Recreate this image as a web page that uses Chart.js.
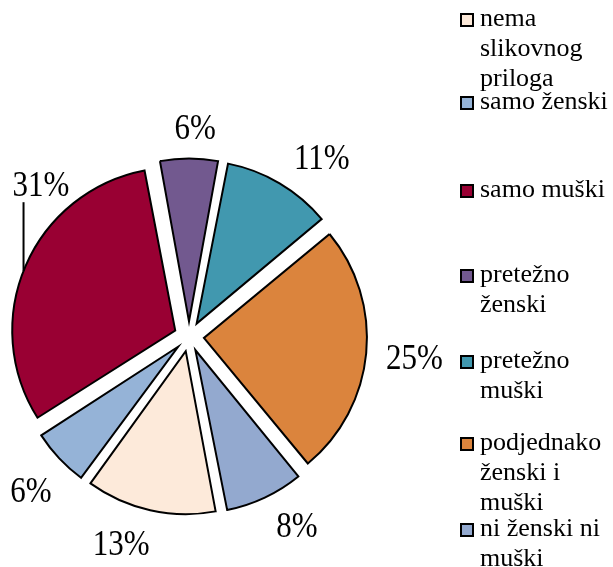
<!DOCTYPE html>
<html><head><meta charset="utf-8">
<script src="https://cdn.jsdelivr.net/npm/chart.js@4.4.0/dist/chart.umd.min.js"></script>
<style>
html,body{margin:0;padding:0;background:#fff;}
#wrap{position:relative;width:613px;height:567px;overflow:hidden;background:#fff;}
#c{position:absolute;left:0;top:0;}
.lg{position:absolute;left:460px;font-family:"Liberation Serif","Times New Roman",serif;font-size:26px;line-height:30px;color:#000;}
.lg .sw{position:absolute;left:0;top:10px;width:10px;height:10px;border:2px solid #000;}
.lg .tx{margin-left:20px;width:135px;}
</style>
</head><body>
<div id="wrap"><canvas id="c" width="613" height="567"></canvas><div id="legend"></div></div>
<script>
const categories = ['nema slikovnog priloga','samo ženski','samo muški','pretežno ženski','pretežno muški','podjednako ženski i muški','ni ženski ni muški'];
const shares = [13, 6, 31, 6, 11, 25, 8];
const colors = ['#FDEADA','#95B3D7','#990033','#72598F','#4198AF','#DB843D','#93A9CF'];

const R = 163;          // pie radius
const EXPLODE = 15;     // translation of every slice in px
const legendTops = [3, 86, 174, 259, 345, 427, 513];
const LABEL_SIZE = 31, LABEL_STRETCH = 1.14;
// label placement: angular shift (deg) from slice bisector, radial shift (px), leader line
const labelAngleShift = [5.6, -0.9, 22.4, 1.7, 5.9, -0.3, -4.5];
const labelDistShift = [0, 0, -13, 0, 0, 0, 0];
const labelLeader = [false, false, true, false, false, false, false];

// HTML legend
const lg = document.getElementById('legend');
categories.forEach((name, i) => {
  const d = document.createElement('div');
  d.className = 'lg';
  d.style.top = legendTops[i] + 'px';
  const sw = document.createElement('div');
  sw.className = 'sw';
  sw.style.background = colors[i];
  const tx = document.createElement('div');
  tx.className = 'tx';
  tx.textContent = name;
  d.appendChild(sw); d.appendChild(tx);
  lg.appendChild(d);
});

// keep radius equal for every exploded slice (Chart.js grows small arcs by offset*fix)
const radiusFix = {
  id: 'radiusFix',
  beforeDatasetsDraw(chart) {
    const meta = chart.getDatasetMeta(0);
    meta.data.forEach(el => {
      const c = el.endAngle - el.startAngle;
      const fix = 1 - Math.sin(Math.min(Math.PI, c));
      el.outerRadius = R - EXPLODE * fix;
    });
  }
};

const pctLabels = {
  id: 'pctLabels',
  afterDatasetsDraw(chart) {
    const ctx = chart.ctx;
    const meta = chart.getDatasetMeta(0);
    const total = shares.reduce((a, b) => a + b, 0);
    ctx.save();
    ctx.font = LABEL_SIZE + 'px "Liberation Serif", "Times New Roman", serif';
    ctx.fillStyle = '#000';
    ctx.textAlign = 'center';
    ctx.textBaseline = 'alphabetic';
    const h = 0.676 * LABEL_SIZE * LABEL_STRETCH;
    meta.data.forEach((el, i) => {
      const txt = Math.round(shares[i] / total * 100) + '%';
      const w = ctx.measureText(txt).width;
      const bis = (el.startAngle + el.endAngle) / 2;
      const mid = bis + labelAngleShift[i] * Math.PI / 180;
      const ux = Math.cos(mid), uy = Math.sin(mid);
      const dist = R + EXPLODE + 19 + Math.abs(ux) * w / 2 + Math.abs(uy) * h / 2 + labelDistShift[i];
      const x = el.x + ux * dist, y = el.y + uy * dist;
      ctx.save();
      ctx.translate(x, y + h / 2);
      ctx.scale(1, LABEL_STRETCH);
      ctx.fillText(txt, 0, 0);
      ctx.restore();
      if (labelLeader[i]) {
        const lx = x - w / 2 + 11;
        const ly0 = y + h / 2 + 6;
        const cx = el.x + Math.cos(bis) * EXPLODE, cy = el.y + Math.sin(bis) * EXPLODE;
        const dx = lx - cx;
        const ly1 = cy - Math.sqrt(Math.max(0, R * R - dx * dx));
        ctx.beginPath();
        ctx.lineWidth = 2;
        ctx.strokeStyle = '#000';
        ctx.moveTo(lx, ly0);
        ctx.lineTo(lx, ly1);
        ctx.stroke();
      }
    });
    ctx.restore();
  }
};

new Chart(document.getElementById('c'), {
  type: 'pie',
  data: {
    labels: categories,
    datasets: [{
      data: shares,
      backgroundColor: colors,
      borderColor: '#000',
      borderWidth: 2,
      borderJoinStyle: 'miter',
      offset: EXPLODE * 4
    }]
  },
  options: {
    responsive: false,
    animation: false,
    events: [],
    rotation: 169.2,
    radius: R,
    layout: {padding: {left: 0, right: 235, top: 106, bottom: 0}},
    plugins: {legend: {display: false}, tooltip: {enabled: false}}
  },
  plugins: [radiusFix, pctLabels]
});
</script>
</body></html>
